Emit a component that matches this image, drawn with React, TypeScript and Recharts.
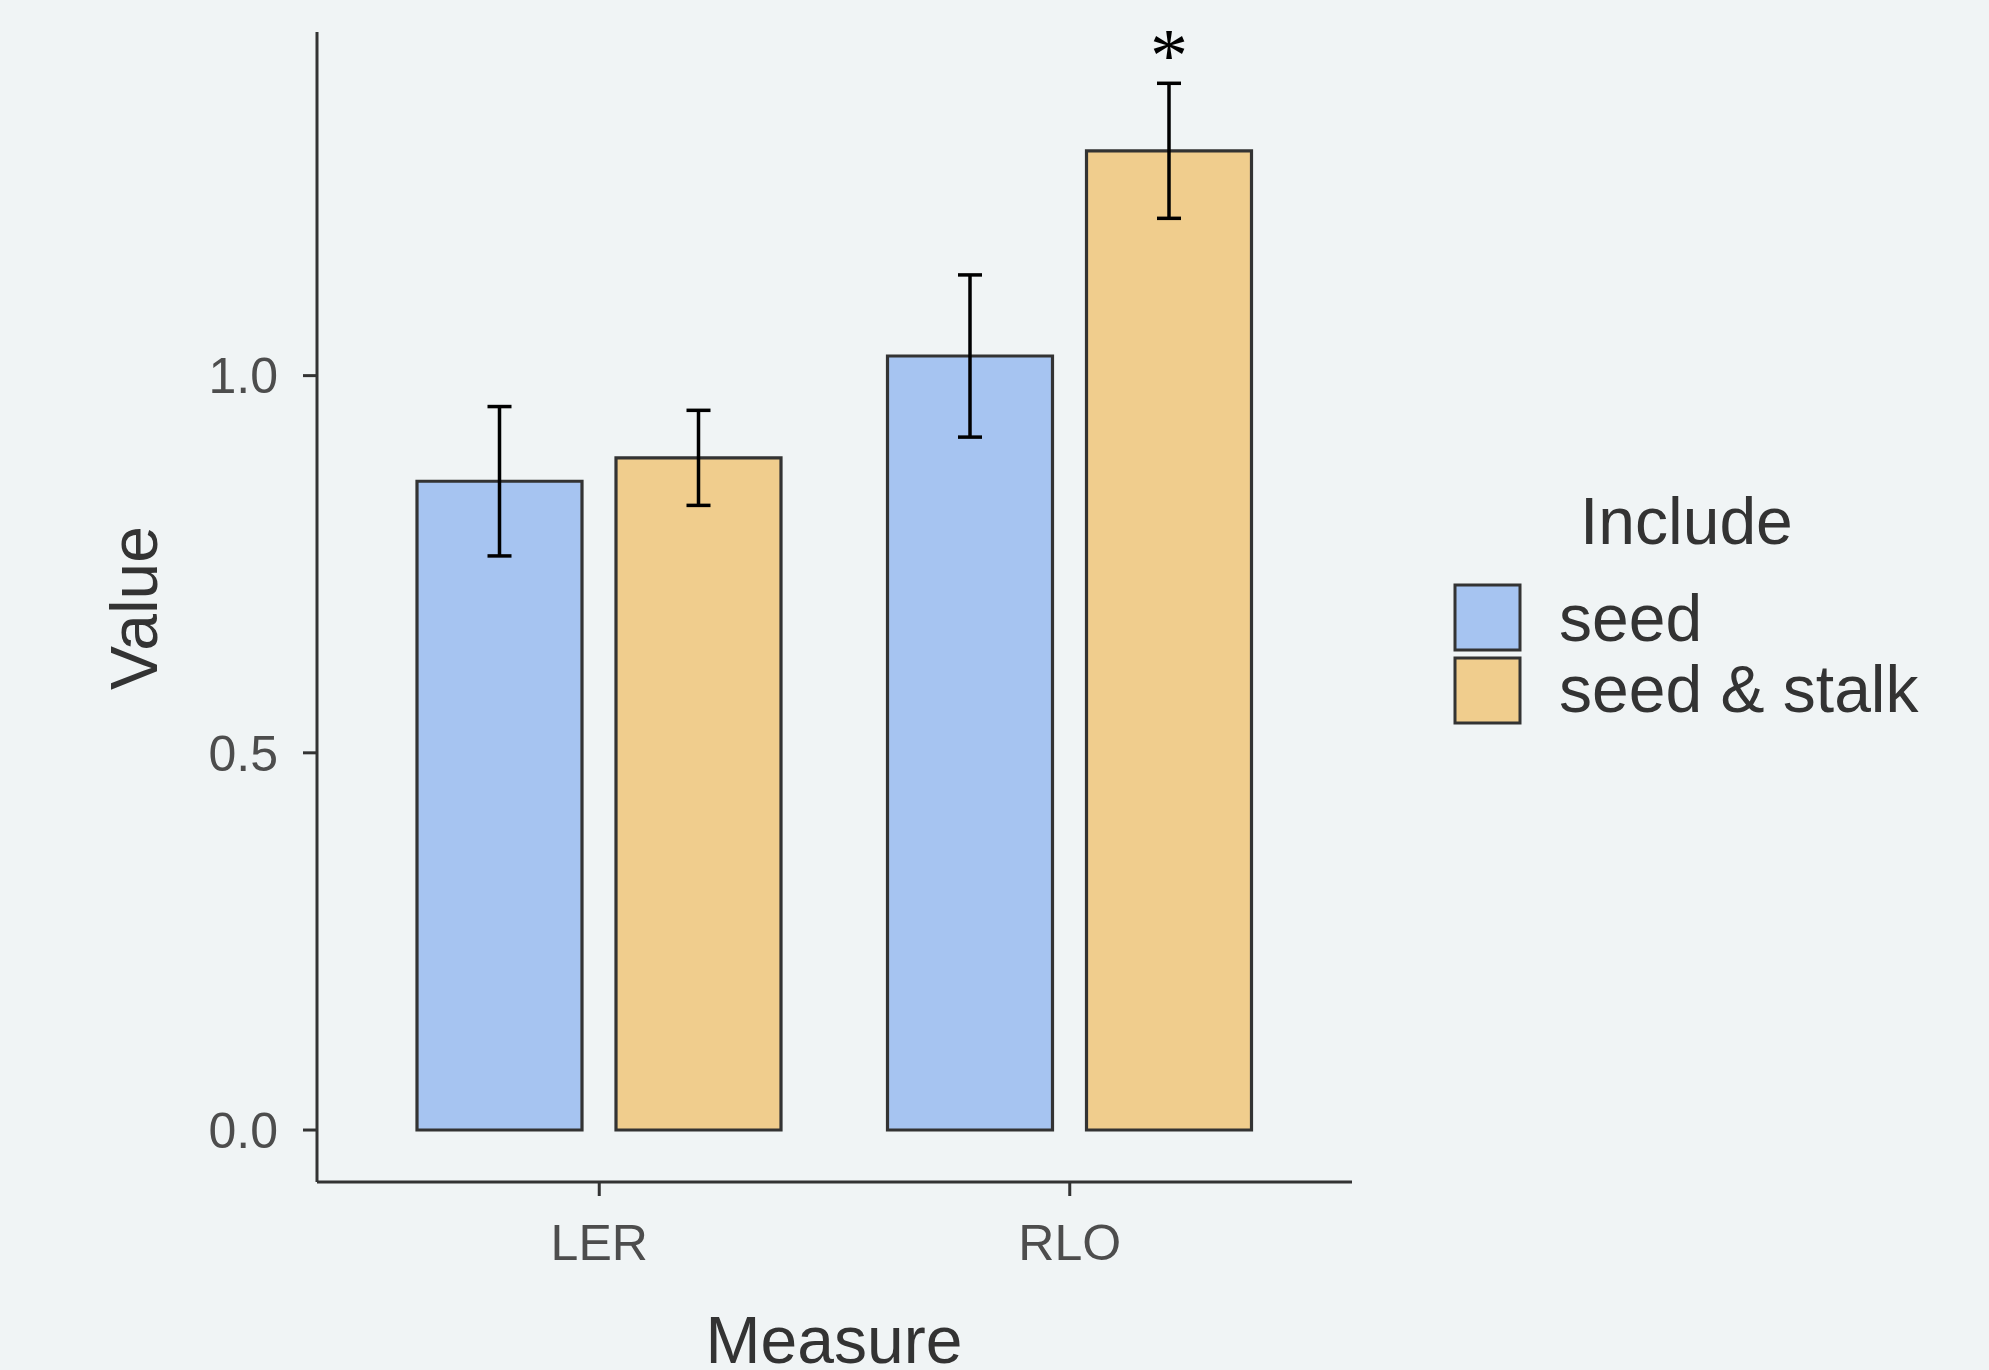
import React from 'react';
import { BarChart, Bar, XAxis, YAxis, ErrorBar, LabelList } from 'recharts';

const categories = ['LER', 'RLO'];
const seedMean = [0.86, 1.026];
const seedErr = [0.099, 0.1075];
const stalkMean = [0.891, 1.298];
const stalkErr = [0.063, 0.0895];
const sigLabels = ['', '*'];
const sigPos = [0, 1.436];
const seriesNames = ['seed', 'seed & stalk'];
const seriesColors = ['#A6C4F1', '#F0CD8D'];
const yTicks = [0, 0.5, 1.0];

const data = categories.map((c, i) => ({
  measure: c,
  seed: seedMean[i],
  seedErr: seedErr[i],
  stalk: stalkMean[i],
  stalkErr: stalkErr[i],
  sig: sigLabels[i],
}));

const BG = '#F0F4F5';
const AXIS = '#333333';
const FONT = '"Liberation Sans", Arial, sans-serif';

// asterisk above the error bar, placed with the bar's own pixel scale
const renderSig = (props: any) => {
  const { x, y, width, height, value, index } = props;
  if (!value) return null;
  const pxPerUnit = height / stalkMean[index];
  const cy = y + height - sigPos[index] * pxPerUnit;
  return (
    <text
      x={x + width / 2}
      y={cy + 34}
      textAnchor="middle"
      fontFamily='"Liberation Serif", "Times New Roman", serif'
      fontSize={76}
      fill="#000"
    >
      {value}
    </text>
  );
};

export default function App() {
  return (
    <div style={{ position: 'absolute', left: 0, top: 0, width: 1989, height: 1370, background: BG }}>
      <BarChart
        width={1989}
        height={1370}
        data={data}
        margin={{ top: 32, right: 637, bottom: 158, left: 257 }}
        barSize={165}
        barGap={34}
      >
        <XAxis
          dataKey="measure"
          height={30}
          padding={{ left: 47, right: 47 }}
          axisLine={{ stroke: AXIS, strokeWidth: 3 }}
          tickLine={{ stroke: AXIS, strokeWidth: 3 }}
          tickSize={14}
          tickMargin={28}
          tick={{ fill: '#4D4D4D', fontSize: 50, fontFamily: FONT }}
        />
        <YAxis
          width={60}
          type="number"
          domain={[-0.0689, 1.4555]}
          allowDataOverflow
          ticks={yTicks}
          tickFormatter={(v: number) => v.toFixed(1)}
          axisLine={{ stroke: AXIS, strokeWidth: 3 }}
          tickLine={{ stroke: AXIS, strokeWidth: 3 }}
          tickSize={14}
          tickMargin={25}
          tick={{ fill: '#4D4D4D', fontSize: 50, fontFamily: FONT }}
        />
        <Bar dataKey="seed" name={seriesNames[0]} fill={seriesColors[0]} stroke={AXIS} strokeWidth={3.2} isAnimationActive={false}>
          <ErrorBar dataKey="seedErr" width={12} stroke="#000" strokeWidth={3.5} direction="y" />
        </Bar>
        <Bar dataKey="stalk" name={seriesNames[1]} fill={seriesColors[1]} stroke={AXIS} strokeWidth={3.2} isAnimationActive={false}>
          <ErrorBar dataKey="stalkErr" width={12} stroke="#000" strokeWidth={3.5} direction="y" />
          <LabelList dataKey="sig" content={renderSig} />
        </Bar>
      </BarChart>
      <svg
        width={1989}
        height={1370}
        style={{ position: 'absolute', left: 0, top: 0, pointerEvents: 'none' }}
        fontFamily={FONT}
      >
        <text x={834} y={1363} textAnchor="middle" fontSize={66} fill="#333">Measure</text>
        <text x={157} y={608} textAnchor="middle" fontSize={66} fill="#333" transform="rotate(-90 157 608)">Value</text>
        <text x={1580} y={544} fontSize={66} fill="#333">Include</text>
        {seriesNames.map((name, i) => (
          <g key={name}>
            <rect x={1455} y={585 + i * 73} width={65} height={65} fill={seriesColors[i]} stroke={AXIS} strokeWidth={3} />
            <text x={1559} y={641 + i * 71} fontSize={66} fill="#333">{name}</text>
          </g>
        ))}
      </svg>
    </div>
  );
}
